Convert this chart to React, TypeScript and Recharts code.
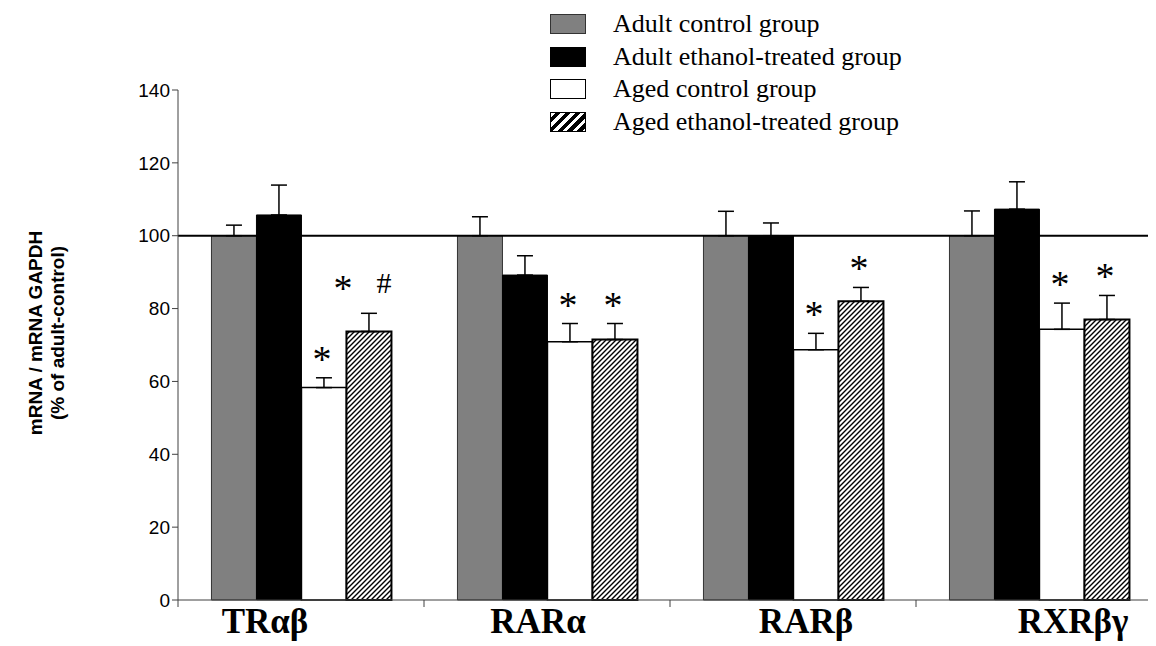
import React from "react";
import { BarChart, Bar, XAxis, YAxis, ErrorBar, ReferenceLine, Legend, LabelList } from "recharts";

const receptors = ["TRαβ", "RARα", "RARβ", "RXRβγ"];
const groupNames = [
  "Adult control group",
  "Adult ethanol-treated group",
  "Aged control group",
  "Aged ethanol-treated group",
];

// mean mRNA level, % of adult control
const adultControl = [100, 100, 100, 100];
const adultEthanol = [105.7, 89.2, 100, 107.3];
const agedControl = [58.3, 70.9, 68.7, 74.3];
const agedEthanol = [73.7, 71.5, 82, 77];

// upper error (SEM)
const adultControlErr = [2.9, 5.2, 6.7, 6.8];
const adultEthanolErr = [8.2, 5.3, 3.5, 7.5];
const agedControlErr = [2.7, 5, 4.5, 7.2];
const agedEthanolErr = [5, 4.4, 3.8, 6.6];

// significance marks
const agedControlMarks = ["*", "*", "*", "*"];
const agedEthanolMarks = ["* #", "*", "*", "*"];

const yTicks = [0, 20, 40, 60, 80, 100, 120, 140];

const data = receptors.map((name, i) => ({
  name,
  ac: adultControl[i],
  ae: adultEthanol[i],
  gc: agedControl[i],
  ge: agedEthanol[i],
  acErr: [0, adultControlErr[i]],
  aeErr: [0, adultEthanolErr[i]],
  gcErr: [0, agedControlErr[i]],
  geErr: [0, agedEthanolErr[i]],
  gcMark: agedControlMarks[i],
  geMark: agedEthanolMarks[i],
}));

// horizontal nudge of each receptor name from its category centre
const labelShift = [-36, -9, 13, 34];

const serif = "'Liberation Serif', 'Times New Roman', serif";
const sans = "'Liberation Sans', Arial, sans-serif";

const legendBoxes: React.CSSProperties[] = [
  { background: "#808080", border: "1.5px solid #333" },
  { background: "#000", border: "1.5px solid #000" },
  { background: "#fff", border: "1.5px solid #000" },
  {
    background: "repeating-linear-gradient(135deg, #fff 0 3px, #000 3px 7px)",
    border: "1.5px solid #000",
  },
];

const ReceptorTick = (props: any) => {
  const { x, y, payload, index } = props;
  const half = payload && payload.offset ? payload.offset : 123;
  return (
    <g>
      <line x1={x - half} x2={x - half} y1={y} y2={y + 7} stroke="#404040" />
      <text
        x={x + (labelShift[index] || 0)}
        y={y + 33}
        textAnchor="middle"
        fontFamily={serif}
        fontWeight="bold"
        fontSize={35}
        fill="#000"
      >
        {payload.value}
      </text>
    </g>
  );
};

// star / hash drawn above the error bar cap
const makeMark = (values: number[], errs: number[]) => (props: any) => {
  const { x, y, width, height, value, index } = props;
  if (!value) return null;
  const unit = height / values[index];
  const capY = y - errs[index] * unit;
  const cy = capY - 24;
  const cx = x + width / 2;
  const parts = String(value).split(" ");
  const spots = parts.length > 1 ? [cx - 26, cx + 15] : [cx - 2];
  return (
    <g>
      {parts.map((p, k) => (
        <text
          key={k}
          x={spots[k]}
          y={cy + (p === "*" ? 18 : 10) - (parts.length > 1 ? 6 : 0)}
          textAnchor="middle"
          fontFamily={serif}
          fontSize={p === "*" ? 38 : 30}
          fill="#000"
        >
          {p}
        </text>
      ))}
    </g>
  );
};

const AxisTitle = () => (
  <g fontFamily={sans} fontWeight="bold" fontSize={19} fill="#000">
    <text x={34} y={325} textAnchor="middle" transform="rotate(-90, 34, 325)">
      mRNA / mRNA GAPDH
    </text>
    <text x={56} y={325} textAnchor="middle" transform="rotate(-90, 56, 325)">
      (% of adult-control)
    </text>
  </g>
);

const GroupLegend = () => (
  <div style={{ fontFamily: serif, fontSize: 26, lineHeight: "30px", color: "#000" }}>
    {groupNames.map((g, i) => (
      <div key={g} style={{ display: "flex", alignItems: "center", height: 32.5 }}>
        <div style={{ width: 36, height: 20, boxSizing: "border-box", ...legendBoxes[i] }} />
        <span style={{ marginLeft: 27, whiteSpace: "nowrap" }}>{g}</span>
      </div>
    ))}
  </div>
);

export default function App() {
  return (
    <div style={{ width: 1148, height: 638, overflow: "hidden", background: "#fff" }}>
      <BarChart
        width={1170}
        height={638}
        data={data}
        margin={{ top: 82, right: 16, bottom: 6, left: 0 }}
        barCategoryGap="13.6%"
        barGap={0}
      >
        <defs>
          <pattern id="hatch" patternUnits="userSpaceOnUse" width="5" height="5">
            <rect width="5" height="5" fill="#fff" />
            <path d="M-1,1 l2,-2 M0,5 l5,-5 M4,6 l2,-2" stroke="#000" strokeWidth={1.4} />
          </pattern>
        </defs>
        <XAxis
          dataKey="name"
          height={40}
          tickSize={0}
          tickMargin={0}
          tickLine={false}
          axisLine={{ stroke: "#404040" }}
          tick={<ReceptorTick />}
          interval={0}
        />
        <YAxis
          width={170}
          domain={[0, 140]}
          ticks={yTicks}
          interval={0}
          axisLine={{ stroke: "#404040" }}
          tickLine={{ stroke: "#404040" }}
          tick={{ fill: "#000", fontSize: 19, fontFamily: sans }}
          label={{ content: () => <AxisTitle /> }}
        />
        <Legend
          layout="vertical"
          verticalAlign="middle"
          align="center"
          wrapperStyle={{ top: 0, left: 542, width: 420 }}
          content={() => <GroupLegend />}
        />
        <Bar dataKey="ac" name={groupNames[0]} fill="#808080" stroke="#333" strokeWidth={1} isAnimationActive={false}>
          <ErrorBar dataKey="acErr" width={8} stroke="#000" strokeWidth={1.5} isAnimationActive={false} />
        </Bar>
        <Bar dataKey="ae" name={groupNames[1]} fill="#000" stroke="#000" strokeWidth={1} isAnimationActive={false}>
          <ErrorBar dataKey="aeErr" width={8} stroke="#000" strokeWidth={1.5} isAnimationActive={false} />
        </Bar>
        <Bar dataKey="gc" name={groupNames[2]} fill="#fff" stroke="#000" strokeWidth={1.5} isAnimationActive={false}>
          <ErrorBar dataKey="gcErr" width={8} stroke="#000" strokeWidth={1.5} isAnimationActive={false} />
          <LabelList dataKey="gcMark" content={makeMark(agedControl, agedControlErr)} />
        </Bar>
        <Bar dataKey="ge" name={groupNames[3]} fill="url(#hatch)" stroke="#000" strokeWidth={2} isAnimationActive={false}>
          <ErrorBar dataKey="geErr" width={8} stroke="#000" strokeWidth={1.5} isAnimationActive={false} />
          <LabelList dataKey="geMark" content={makeMark(agedEthanol, agedEthanolErr)} />
        </Bar>
        <ReferenceLine y={100} stroke="#000" strokeWidth={2} />
      </BarChart>
    </div>
  );
}
